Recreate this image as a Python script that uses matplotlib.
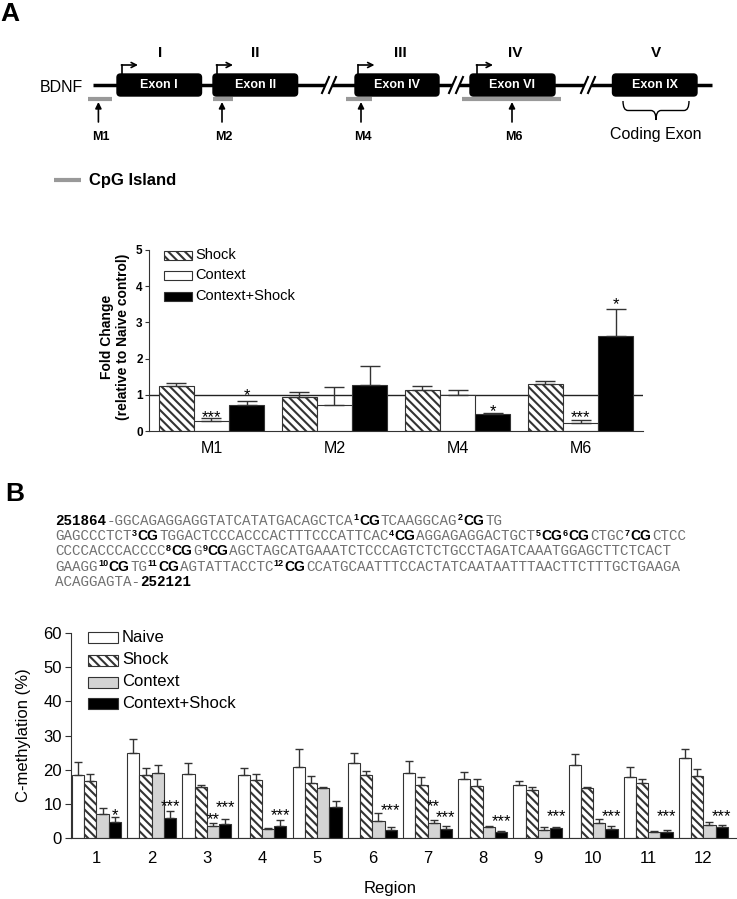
import numpy as np
import matplotlib
matplotlib.use("Agg")
import matplotlib.pyplot as plt
from matplotlib.patches import Rectangle, FancyBboxPatch, Polygon, PathPatch
from matplotlib.path import Path

plt.rcParams['font.family'] = ['Liberation Sans', 'DejaVu Sans']
plt.rcParams['hatch.linewidth'] = 1.5

# ---- panel A: gene map ----
exon_names = ['Exon I', 'Exon II', 'Exon IV', 'Exon VI', 'Exon IX']
exon_numerals = ['I', 'II', 'III', 'IV', 'V']
cpg_names = ['M1', 'M2', 'M4', 'M6']

# ---- panel A: fold change (relative to naive) ----
promoters = ['M1', 'M2', 'M4', 'M6']
fc_shock = [1.24, 0.94, 1.12, 1.30]
fc_shock_err = [0.09, 0.14, 0.11, 0.08]
fc_context = [0.28, 0.72, 0.99, 0.21]
fc_context_err = [0.09, 0.50, 0.14, 0.09]
fc_cs = [0.73, 1.28, 0.46, 2.62]
fc_cs_err = [0.10, 0.52, 0.05, 0.75]
# (promoter, series, marker, height)
fc_stars = [(0, 1, '***', 0.52), (0, 2, '*', 1.11), (2, 2, '*', 0.67),
            (3, 1, '***', 0.51), (3, 2, '*', 3.62)]

# ---- panel B: sequence ----
seq_lines = [
    [('b', '251864'), ('g', '-GGCAGAGGAGGTATCATATGACAGCTCA'), ('s', '1'), ('c', 'CG'),
     ('g', 'TCAAGGCAG'), ('s', '2'), ('c', 'CG'), ('g', 'TG')],
    [('g', 'GAGCCCTCT'), ('s', '3'), ('c', 'CG'), ('g', 'TGGACTCCCACCCACTTTCCCATTCAC'),
     ('s', '4'), ('c', 'CG'), ('g', 'AGGAGAGGACTGCT'), ('s', '5'), ('c', 'CG'),
     ('s', '6'), ('c', 'CG'), ('g', 'CTGC'), ('s', '7'), ('c', 'CG'), ('g', 'CTCC')],
    [('g', 'CCCCACCCACCCC'), ('s', '8'), ('c', 'CG'), ('g', 'G'), ('s', '9'), ('c', 'CG'),
     ('g', 'AGCTAGCATGAAATCTCCCAGTCTCTGCCTAGATCAAATGGAGCTTCTCACT')],
    [('g', 'GAAGG'), ('s', '10'), ('c', 'CG'), ('g', 'TG'), ('s', '11'), ('c', 'CG'),
     ('g', 'AGTATTACCTC'), ('s', '12'), ('c', 'CG'),
     ('g', 'CCATGCAATTTCCACTATCAATAATTTAACTTCTTTGCTGAAGA')],
    [('g', 'ACAGGAGTA-'), ('b', '252121')],
]

# ---- panel B: C-methylation (%) ----
regions = ['1', '2', '3', '4', '5', '6', '7', '8', '9', '10', '11', '12']
naive = [18.5, 24.8, 18.7, 18.4, 20.7, 22.1, 19.2, 17.3, 15.5, 21.4, 17.9, 23.3]
naive_err = [3.8, 4.3, 3.2, 2.0, 5.3, 2.9, 3.3, 2.0, 1.2, 3.1, 3.0, 2.9]
shock = [16.8, 18.5, 15.0, 16.9, 16.2, 18.6, 15.7, 15.3, 14.1, 14.7, 16.0, 18.2]
shock_err = [1.9, 1.9, 0.7, 1.8, 2.0, 1.0, 2.2, 2.1, 0.9, 0.3, 1.3, 1.9]
context = [7.0, 19.2, 3.6, 2.6, 14.6, 5.1, 4.6, 3.2, 2.4, 4.4, 1.8, 3.9]
context_err = [1.9, 2.1, 0.8, 0.5, 0.4, 2.2, 0.7, 0.3, 1.0, 1.1, 0.3, 0.8]
cs = [4.8, 6.0, 4.2, 3.6, 9.2, 2.3, 2.8, 1.7, 2.9, 2.8, 1.7, 3.2]
cs_err = [1.3, 1.9, 1.4, 1.7, 1.8, 1.1, 0.7, 0.3, 0.5, 0.7, 0.6, 0.6]
meth_stars = [(0, 3, '*', 8.0), (1, 3, '***', 10.8), (2, 2, '**', 7.0), (2, 3, '***', 10.3),
              (3, 3, '***', 8.2), (5, 3, '***', 9.6), (6, 2, '**', 10.7), (6, 3, '***', 7.4),
              (7, 3, '***', 6.3), (8, 3, '***', 7.8), (9, 3, '***', 7.9), (10, 3, '***', 7.9),
              (11, 3, '***', 7.9)]

W, H = 737, 899
fig = plt.figure(figsize=(W / 100, H / 100), dpi=100)
edge = '#333333'
hatch = '\\\\\\\\'


def star(ax, x, yc, txt, fs):
    ax.annotate(txt, (x, yc), xytext=(0, -0.575 * fs), textcoords='offset points',
                ha='center', va='baseline', fontsize=fs)


# ---------------- fold change chart ----------------
ax1 = fig.add_axes([149 / W, 1 - 431 / H, 494 / W, 181 / H])
ax1.set_facecolor('none')
x = np.arange(len(promoters))
w = 0.285
fc_series = [(fc_shock, fc_shock_err, 'white', hatch),
             (fc_context, fc_context_err, 'white', ''),
             (fc_cs, fc_cs_err, 'black', '')]
for i, (vals, errs, col, h) in enumerate(fc_series):
    xs = x + (i - 1) * w
    ax1.bar(xs, vals, w, color=col, edgecolor=edge, hatch=h, lw=0.8, zorder=2)
    ax1.errorbar(xs, vals, yerr=[np.zeros(len(vals)), errs], fmt='none', ecolor=edge,
                 elinewidth=1, capsize=7, capthick=1, zorder=3)
ax1.axhline(1, color='#222222', lw=1, zorder=1)
for g, s, txt, yc in fc_stars:
    star(ax1, x[g] + (s - 1) * w, yc, txt, 12)
ax1.set_xlim(-0.508, 3.508)
ax1.set_ylim(0, 5)
for sp in ['top', 'right']:
    ax1.spines[sp].set_visible(False)
for sp in ['left', 'bottom']:
    ax1.spines[sp].set_color(edge)
ax1.set_xticks(x, promoters, fontsize=11.5)
ax1.set_yticks(np.arange(0, 6))
ax1.set_yticklabels([str(v) for v in range(6)], fontsize=8.5, fontweight='bold')
ax1.tick_params(axis='x', length=0, pad=7)
ax1.tick_params(axis='y', length=3, pad=1.5, color=edge)

# ---------------- methylation chart ----------------
ax2 = fig.add_axes([71 / W, 1 - 838.3 / H, 666 / W, 205.6 / H])
ax2.set_facecolor('none')
xb = np.arange(1, len(regions) + 1)
wb = 0.222
meth_series = [(naive, naive_err, 'white', ''),
               (shock, shock_err, 'white', hatch),
               (context, context_err, '#d4d4d4', ''),
               (cs, cs_err, 'black', '')]
for i, (vals, errs, col, h) in enumerate(meth_series):
    xs = xb + (i - 1.5) * wb
    ax2.bar(xs, vals, wb, color=col, edgecolor=edge, hatch=h, lw=0.8, zorder=2)
    ax2.errorbar(xs, vals, yerr=[np.zeros(len(vals)), errs], fmt='none', ecolor=edge,
                 elinewidth=1, capsize=3.2, capthick=1, zorder=3)
for g, s, txt, yc in meth_stars:
    star(ax2, xb[g] + (s - 1.5) * wb, yc, txt, 12)
ax2.set_xlim(0.538, 12.61)
ax2.set_ylim(0, 60)
for sp in ['top', 'right']:
    ax2.spines[sp].set_visible(False)
for sp in ['left', 'bottom']:
    ax2.spines[sp].set_color(edge)
ax2.set_xticks(xb, regions, fontsize=12)
ax2.set_yticks(np.arange(0, 61, 10))
ax2.tick_params(axis='y', labelsize=12, length=4.5, pad=2, color=edge)
ax2.tick_params(axis='x', length=0, pad=9)

# ---------------- overlay in pixel coordinates ----------------
ax0 = fig.add_axes([0, 0, 1, 1], zorder=10)
ax0.set_xlim(0, W)
ax0.set_ylim(H, 0)
ax0.axis('off')

ax0.text(10, 14, 'A', fontsize=19, fontweight='bold', ha='center', va='center')
ax0.text(15, 494, 'B', fontsize=19, fontweight='bold', ha='center', va='center')

# gene line
gy = 85
ax0.plot([92.8, 712], [gy, gy], color='black', lw=2.5, solid_capstyle='butt', zorder=1)
ax0.text(61, 87, 'BDNF', fontsize=11.5, ha='center', va='center')

# breaks
for bx in [329, 456, 588]:
    ax0.add_patch(Polygon([(bx - 7, 93), (bx, 77), (bx + 7, 77), (bx, 93)],
                          closed=True, facecolor='white', edgecolor='none', zorder=2))
    ax0.plot([bx - 7, bx], [93, 77], color='black', lw=1.5, zorder=3)
    ax0.plot([bx, bx + 7], [93, 77], color='black', lw=1.5, zorder=3)

# exons
exon_x = [(117, 201.5), (213, 297.6), (355, 439), (470, 555), (612.5, 697)]
numeral_x = [160, 255, 400.6, 515.5, 656]
for name, (x0, x1), num, nx in zip(exon_names, exon_x, exon_numerals, numeral_x):
    ax0.add_patch(FancyBboxPatch((x0, 74), x1 - x0, 22,
                                 boxstyle='round,pad=0,rounding_size=3.5',
                                 facecolor='black', edgecolor='black', zorder=4))
    ax0.text((x0 + x1) / 2, 85, name, color='white', fontsize=9, fontweight='bold',
             ha='center', va='center', zorder=5)
    ax0.text(nx, 53, num, fontsize=11, fontweight='bold', ha='center', va='center')

# transcription start arrows
for tx in [122, 217, 358.5, 477]:
    ax0.plot([tx, tx], [74, 65], color='black', lw=1.2, zorder=4)
    ax0.annotate('', xy=(tx + 16, 65), xytext=(tx - 0.6, 65),
                 arrowprops=dict(arrowstyle='->', lw=1.2, color='black',
                                 shrinkA=0, shrinkB=0, mutation_scale=9))

# CpG islands and probes
cpg_span = [(87.6, 112.5), (213, 233), (346, 372.5), (462.5, 561.4)]
probe_x = [98.4, 222, 361, 512]
for name, (c0, c1), px in zip(cpg_names, cpg_span, probe_x):
    ax0.plot([c0, c1], [99, 99], color='#999999', lw=3, solid_capstyle='butt')
    ax0.annotate('', xy=(px, 102), xytext=(px, 122),
                 arrowprops=dict(arrowstyle='-|>', lw=1.2, color='black',
                                 shrinkA=0, shrinkB=0, mutation_scale=9))
    ax0.text(px + 2, 137, name, fontsize=9, fontweight='bold', ha='center', va='center')

# coding exon brace
bx0, bx1, by0, bh, r = 623, 689, 101, 19, 5
bxm = (bx0 + bx1) / 2
bym = by0 + bh / 2
verts = [(bx0, by0), (bx0, bym), (bx0 + r, bym), (bxm - r, bym), (bxm, bym), (bxm, by0 + bh),
         (bxm, bym), (bxm + r, bym), (bx1 - r, bym), (bx1, bym), (bx1, by0)]
codes = [Path.MOVETO, Path.CURVE3, Path.CURVE3, Path.LINETO, Path.CURVE3, Path.CURVE3,
         Path.CURVE3, Path.CURVE3, Path.LINETO, Path.CURVE3, Path.CURVE3]
ax0.add_patch(PathPatch(Path(verts, codes), facecolor='none', edgecolor='black', lw=1.0))
ax0.text(656, 134, 'Coding Exon', fontsize=11.5, ha='center', va='center')

# CpG legend
ax0.plot([54, 81], [180, 180], color='#999999', lw=3, solid_capstyle='butt')
ax0.text(89, 180, 'CpG Island', fontsize=12, fontweight='bold', ha='left', va='center')

# fold change legend
fc_leg = [('Shock', 'white', hatch), ('Context', 'white', ''), ('Context+Shock', 'black', '')]
for (lab, col, h), yc in zip(fc_leg, [255, 275, 296]):
    ax0.add_patch(Rectangle((164, yc - 4.5), 28, 9, facecolor=col, edgecolor=edge,
                            hatch=h, lw=0.8))
    ax0.text(195, yc, lab, fontsize=10.5, ha='left', va='center')
ax0.text(115, 337, 'Fold Change\n(relative to Naive control)', rotation=90, fontsize=10,
         fontweight='bold', ha='center', va='center', multialignment='center',
         linespacing=1.1)

# methylation legend
meth_leg = [('Naive', 'white', ''), ('Shock', 'white', hatch),
            ('Context', '#d4d4d4', ''), ('Context+Shock', 'black', '')]
for (lab, col, h), yc in zip(meth_leg, [637, 660, 682, 703]):
    ax0.add_patch(Rectangle((88, yc - 5.5), 30, 11, facecolor=col, edgecolor=edge,
                            hatch=h, lw=0.8))
    ax0.text(122, yc, lab, fontsize=12, ha='left', va='center')
ax0.text(24, 735, 'C-methylation (%)', rotation=90, fontsize=12, ha='center', va='center')
ax0.text(390, 889, 'Region', fontsize=12, ha='center', va='center')

# sequence text
renderer = fig.canvas.get_renderer()
styles = {
    'g': dict(family='Liberation Mono', size=10.3, color='#707070'),
    'b': dict(family='Liberation Mono', size=10.3, weight='bold', color='black'),
    'c': dict(family='Liberation Sans', size=10, weight='bold', color='black'),
    's': dict(family='Liberation Sans', size=6.5, weight='bold', color='black'),
}
for line, yb in zip(seq_lines, [525, 540.2, 555.4, 570.6, 585.8]):
    xcur = 55
    for kind, s in line:
        dy = -4.5 if kind == 's' else 0
        t = ax0.text(xcur, yb + dy, s, ha='left', va='baseline', **styles[kind])
        xcur += t.get_window_extent(renderer).width + 0.6

fig.savefig('out.png', dpi=100)
